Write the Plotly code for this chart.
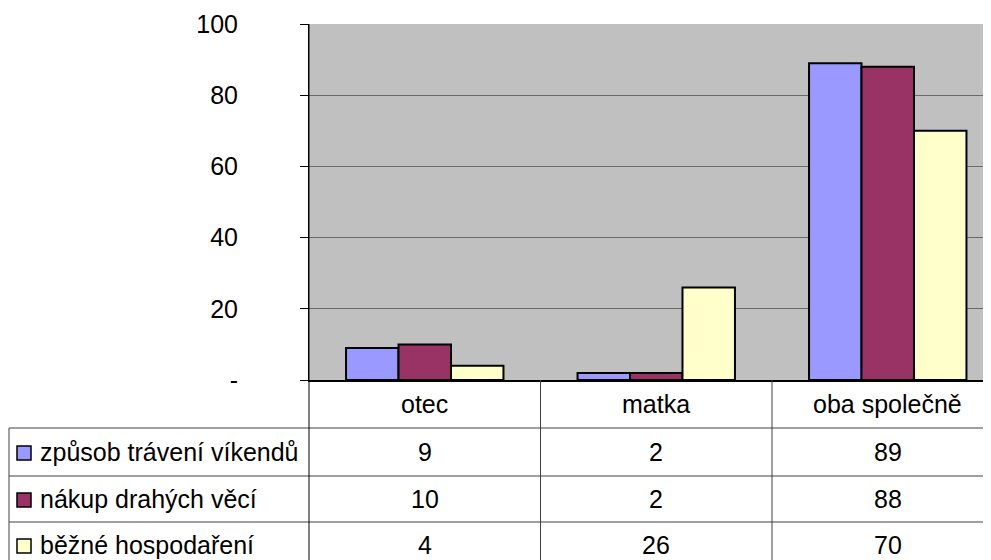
import plotly.graph_objects as go

categories = ["otec", "matka", "oba společně"]
series_names = ["způsob trávení víkendů", "nákup drahých věcí", "běžné hospodaření"]
vikendy = [9, 2, 89]
nakup = [10, 2, 88]
hospodareni = [4, 26, 70]
y_ticks = [0, 20, 40, 60, 80, 100]
y_tick_text = ["-", "20", "40", "60", "80", "100"]

colors = ["#9999FF", "#993366", "#FFFFCC"]
FONT = "Liberation Sans, Arial, sans-serif"

# page body has an 8px margin, so the figure starts at (8, 8)
OFF = 8
W, H = 991 - OFF, 560 - OFF
L, T = 309 - OFF, 24 - OFF
B = H - (380 - OFF)
plot_w = W - L
plot_h = H - T - B


def px_x(px):
    # screen pixel -> paper coordinate
    return (px - 309) / plot_w


def px_y(py):
    return (380 - py) / plot_h


fig = go.Figure()
for name, vals, col in zip(series_names, [vikendy, nakup, hospodareni], colors):
    fig.add_bar(
        x=categories,
        y=vals,
        name=name,
        marker=dict(color=col, line=dict(color="black", width=2)),
        hoverinfo="skip",
        showlegend=False,
    )

# data table below the plot
row_lines = [428, 476, 522, 569]
row_centers = [452, 499, 545]
shapes = []
for py in row_lines:
    shapes.append(dict(type="line", xref="paper", yref="paper",
                       x0=px_x(9), x1=1.05, y0=px_y(py), y1=px_y(py),
                       line=dict(color="#404040", width=1)))
shapes.append(dict(type="line", xref="paper", yref="paper",
                   x0=px_x(9), x1=px_x(9), y0=px_y(428), y1=px_y(575),
                   line=dict(color="#404040", width=1)))
for xb in [0.5, 1.5]:
    shapes.append(dict(type="line", xref="x", yref="paper",
                       x0=xb, x1=xb, y0=0, y1=px_y(575),
                       line=dict(color="#404040", width=1)))
shapes.append(dict(type="line", xref="paper", yref="paper",
                   x0=0, x1=0, y0=1, y1=px_y(575),
                   line=dict(color="black", width=1)))

annotations = []
for c in categories:
    annotations.append(dict(x=c, y=px_y(404), xref="x", yref="paper",
                            text=c, showarrow=False, yanchor="middle",
                            font=dict(size=25, color="black", family=FONT)))
for i, (name, vals, col) in enumerate(zip(series_names, [vikendy, nakup, hospodareni], colors)):
    cy = row_centers[i]
    shapes.append(dict(type="rect", xref="paper", yref="paper",
                       x0=px_x(17), x1=px_x(31), y0=px_y(cy - 6), y1=px_y(cy + 8),
                       fillcolor=col, line=dict(color="black", width=1.5)))
    annotations.append(dict(x=px_x(38), y=px_y(cy), xref="paper", yref="paper",
                            text=name, showarrow=False, xanchor="left", yanchor="middle",
                            font=dict(size=25, color="black", family=FONT)))
    for c, v in zip(categories, vals):
        annotations.append(dict(x=c, y=px_y(cy), xref="x", yref="paper",
                                text=str(v), showarrow=False, yanchor="middle",
                                font=dict(size=25, color="black", family=FONT)))

fig.update_layout(
    width=W,
    height=H,
    margin=dict(l=L, r=0, t=T, b=B, pad=0),
    paper_bgcolor="white",
    plot_bgcolor="#C0C0C0",
    barmode="group",
    bargap=0.32,
    bargroupgap=0,
    font=dict(family=FONT, size=25, color="black"),
    shapes=shapes,
    annotations=annotations,
)
fig.update_xaxes(
    type="category",
    range=[-0.5, 2.446],
    showticklabels=False,
    ticks="",
    showgrid=False,
    showline=True,
    linecolor="black",
    linewidth=1.5,
    zeroline=False,
)
fig.update_yaxes(
    range=[0, 100],
    tickvals=y_ticks,
    ticktext=y_tick_text,
    ticks="outside",
    ticklen=8,
    tickcolor="black",
    ticklabelstandoff=57,
    showline=True,
    linecolor="black",
    linewidth=1,
    showgrid=True,
    gridcolor="#6a6a6a",
    gridwidth=1,
    zeroline=False,
    tickfont=dict(size=25, family=FONT),
)

fig.write_html("out.html")
